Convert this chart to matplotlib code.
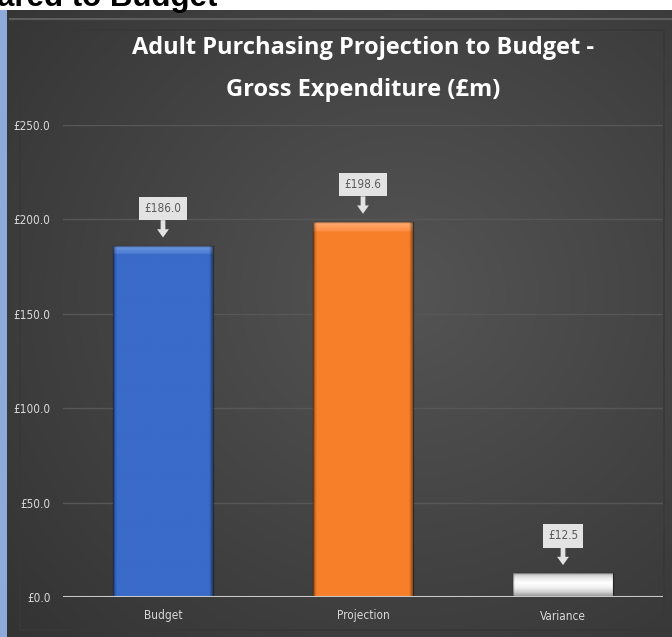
import numpy as np
import matplotlib
matplotlib.use("Agg")
import matplotlib.pyplot as plt
from matplotlib.patches import Rectangle

categories = ["Budget", "Projection", "Variance"]
values = [186.0, 198.6, 12.5]
value_labels = ["£186.0", "£198.6", "£12.5"]
yticks = [0, 50, 100, 150, 200, 250]
ytick_labels = ["£0.0", "£50.0", "£100.0", "£150.0", "£200.0", "£250.0"]
title_text = "Adult Purchasing Projection to Budget -\nGross Expenditure (£m)"
header_text = "ared to Budget"

W, H = 672, 637
fig = plt.figure(figsize=(W / 100, H / 100), dpi=100, facecolor="white")

def fx(px):
    return px / W

def fy(py):
    return 1 - py / H

narrow = ["DejaVu Sans"]

# header text (cropped at top edge as in the source)
fig.text(fx(-3), fy(6), header_text, ha="left", va="baseline",
         fontsize=22.5, fontweight="bold", family=["Liberation Sans", "DejaVu Sans"], color="black")

# left blue strip
fig.patches.append(Rectangle((0, 0), fx(7), fy(10), transform=fig.transFigure,
                             facecolor="#8eaadb", edgecolor="none", zorder=1))

# dark background with soft radial gradient
bg = fig.add_axes([fx(7), 0, 1 - fx(7), fy(10)])
bg.set_axis_off()
yy, xx = np.mgrid[0:1:300j, 0:1:300j]
d = np.sqrt(((xx - 0.6) / 1.0) ** 2 + ((yy - 0.45) / 1.0) ** 2)
shade = np.clip(0.33 - 0.16 * d, 0.17, 0.33)
img = np.dstack([shade, shade, shade])
bg.imshow(img, extent=[0, 1, 0, 1], aspect="auto", origin="upper", zorder=0)
bg.set_xlim(0, 1)
bg.set_ylim(0, 1)

# bevel frame (inside background axes so it stays beneath labels)
bg.add_patch(Rectangle((fx(20), fy(630)), fx(664) - fx(20), fy(30) - fy(630),
                       transform=fig.transFigure, facecolor="none",
                       edgecolor="#383838", linewidth=1.2, zorder=2))
bg.add_line(plt.Line2D([fx(10), fx(672)], [fy(19), fy(19)], transform=fig.transFigure,
                       color="#5e5e5e", linewidth=1.5, zorder=2))

# title
fig.text(fx(363), fy(69), title_text, ha="center", va="center", color="white",
         fontsize=17, fontweight="bold", family=["Open Sans", "DejaVu Sans"],
         fontstretch="condensed", linespacing=2.0)

ax = fig.add_axes([fx(63), fy(597), fx(663) - fx(63), fy(125) - fy(597)])
ax.patch.set_alpha(0)
ax.set_xlim(-0.5, 2.5)
ax.set_ylim(0, 250)
for s in ax.spines.values():
    s.set_visible(False)
ax.set_yticks(yticks)
ax.set_yticklabels(ytick_labels, family=narrow, fontsize=8.5, color="#d9d9d9",
                   fontstretch="condensed")
ax.set_xticks(range(len(categories)))
ax.set_xticklabels(categories, family=narrow, fontsize=8.5, color="#d9d9d9",
                   fontstretch="condensed")
ax.tick_params(axis="both", length=0)
ax.tick_params(axis="y", pad=9)
ax.tick_params(axis="x", pad=9)
ax.grid(axis="y", color="#575757", linewidth=1)
ax.set_axisbelow(True)
ax.axhline(0, color="#c8c8c8", linewidth=1.5, zorder=4)

bar_grads = [
    ["#6f98e0", "#4a7bd3", "#3a6bc9", "#3a6bc9", "#3566c2", "#2c56a8"],
    ["#ffab70", "#ff8e45", "#f77f2a", "#f77f2a", "#f27a26", "#d7661b"],
    ["#bdbdbd", "#e8e8e8", "#ffffff", "#f2f2f2", "#cfcfcf", "#8f8f8f"],
]
bars = ax.bar(range(len(categories)), values, width=0.5, zorder=3,
              edgecolor="none", color="none")
for i, (b, cols) in enumerate(zip(bars, bar_grads)):
    x0, w, h = b.get_x(), b.get_width(), b.get_height()
    rgb = np.array([matplotlib.colors.to_rgb(c) for c in cols])
    if i < 2:
        n = 200
        tpos = np.linspace(0, 1, n)
        band = 8 / (472 * h / 250)
        col = np.zeros((n, 3))
        for k, t in enumerate(tpos):
            if t < band:
                col[k] = rgb[0] + (rgb[1] - rgb[0]) * t / band
            else:
                col[k] = rgb[2]
        grad = np.repeat(col[:, None, :], 60, axis=1)
        side = np.linspace(0, 1, 60)
        dark = np.clip(1 - 0.35 * np.maximum((side - 0.97) / 0.03, 0)
                       - 0.3 * np.maximum((0.03 - side) / 0.03, 0), 0, 1)
        grad = grad * dark[None, :, None]
    else:
        tpos = np.linspace(0, 1, len(cols))
        n = 100
        t2 = np.linspace(0, 1, n)
        col = np.stack([np.interp(t2, tpos, rgb[:, c]) for c in range(3)], axis=1)
        grad = np.repeat(col[:, None, :], 60, axis=1)
    im = ax.imshow(grad, extent=[x0, x0 + w, 0, h], origin="upper", aspect="auto", zorder=3)
    rect = Rectangle((x0, 0), w, h, transform=ax.transData, facecolor="none", edgecolor="none")
    ax.add_patch(rect)
    im.set_clip_path(rect)
    rect2 = Rectangle((x0, 0), w, h, facecolor="none", edgecolor=(0, 0, 0, 0.35),
                      linewidth=1, zorder=3.5)
    ax.add_patch(rect2)

ax.set_xlim(-0.5, 2.5)
ax.set_ylim(0, 250)

for i, (v, lab) in enumerate(zip(values, value_labels)):
    ax.annotate(lab, xy=(i, v), xytext=(0, 27), textcoords="offset points",
                ha="center", va="center", fontsize=8.5, family=narrow, color="#595959",
                fontstretch="condensed",
                bbox=dict(boxstyle="square,pad=0.45", fc="#e3e3e3", ec="none"),
                arrowprops=dict(arrowstyle="simple,head_length=0.7,head_width=1.0,tail_width=0.4",
                                fc="#e3e3e3", ec="none", shrinkA=0, shrinkB=6),
                zorder=6)

fig.savefig("out.png", dpi=100, facecolor="white")
